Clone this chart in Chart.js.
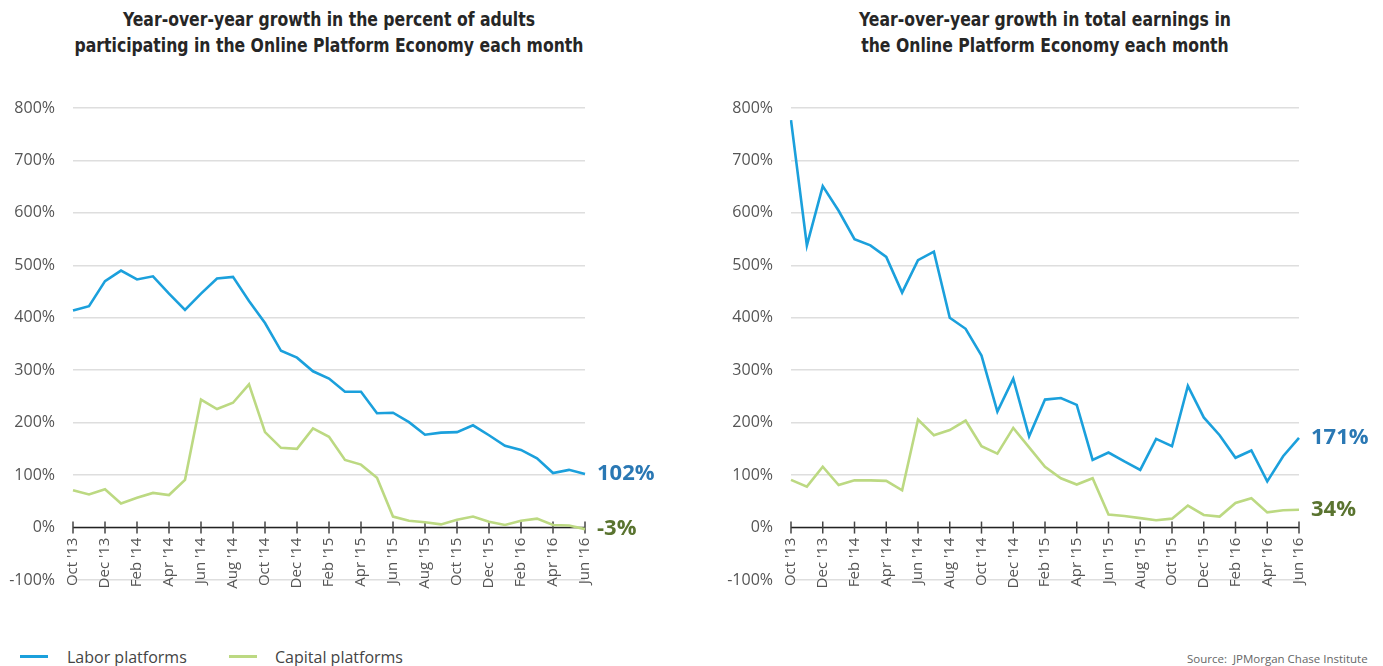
<!DOCTYPE html>
<html><head><meta charset="utf-8">
<script src="https://cdn.jsdelivr.net/npm/chart.js@4.4.1/dist/chart.umd.min.js"></script>
<style>
body{margin:0;width:1383px;height:666px;background:#fff;position:relative;overflow:hidden;font-family:"Open Sans",sans-serif;}
.title{position:absolute;top:6px;width:640px;text-align:center;font-family:"DejaVu Sans Condensed","DejaVu Sans",sans-serif;font-weight:bold;font-size:20px;line-height:26px;color:#262626;white-space:nowrap;transform:scaleX(0.87);transform-origin:50% 50%;}
.wrap{position:absolute;top:0;height:620px;}
.leg{position:absolute;top:646px;font-size:16px;color:#444;line-height:22px;white-space:nowrap;}
.sw{position:absolute;top:655px;height:3px;width:28px;}
.src{position:absolute;top:651px;left:1187px;font-size:11.5px;color:#666;white-space:nowrap;}
</style></head>
<body>
<div class="title" style="left:9px">Year-over-year growth in the percent of adults<br>participating in the Online Platform Economy each month</div>
<div class="title" style="left:725px">Year-over-year growth in total earnings in<br>the Online Platform Economy each month</div>
<div class="wrap" style="left:0;width:690px"><canvas id="c1"></canvas></div>
<div class="wrap" style="left:690px;width:693px"><canvas id="c2"></canvas></div>
<div class="sw" style="left:20px;background:#1ba0dc"></div>
<div class="leg" style="left:67px">Labor platforms</div>
<div class="sw" style="left:229px;background:#bcd982"></div>
<div class="leg" style="left:275px">Capital platforms</div>
<div class="src">Source:&nbsp; JPMorgan Chase Institute</div>
<script>
const months = ["Oct '13","Nov '13","Dec '13","Jan '14","Feb '14","Mar '14","Apr '14","May '14","Jun '14","Jul '14","Aug '14","Sep '14","Oct '14","Nov '14","Dec '14","Jan '15","Feb '15","Mar '15","Apr '15","May '15","Jun '15","Jul '15","Aug '15","Sep '15","Oct '15","Nov '15","Dec '15","Jan '16","Feb '16","Mar '16","Apr '16","May '16","Jun '16"];
const seriesNames = ["Labor platforms","Capital platforms"];
const laborParticipation = [414,422,470,490,473,479,446,415,446,475,478,432,390,337,324,298,284,259,259,218,219,201,177,181,182,195,176,156,148,132,104,110,102];
const capitalParticipation = [71,63,73,46,57,66,62,91,244,226,238,273,182,152,150,189,173,129,120,95,21,13,10,6,15,21,11,5,13,17,5,4,-3];
const laborEarnings = [777,538,651,604,550,538,516,448,510,526,400,379,328,221,284,174,244,247,234,129,143,126,110,169,155,270,210,176,133,147,88,136,171];
const capitalEarnings = [91,78,116,81,90,90,89,71,206,176,186,204,155,141,190,153,116,94,82,94,25,22,18,14,17,42,24,21,47,56,29,33,34];
const yTicks = [-100,0,100,200,300,400,500,600,700,800];

const lineColors = ['#1ba0dc','#bcd982'];
const endColors = ['#2a78b4','#5a7430'];

const axisPlugin = {
  id:'axisPlugin',
  beforeDatasetsDraw(chart){
    const {ctx, chartArea, scales} = chart;
    const y0 = scales.y.getPixelForValue(0);
    ctx.save();
    ctx.strokeStyle = '#222';
    ctx.lineWidth = 1.5;
    ctx.beginPath();
    ctx.moveTo(chartArea.left, y0); ctx.lineTo(chartArea.right, y0);
    ctx.stroke();
    ctx.strokeStyle = '#444';
    for (let i = 0; i < months.length; i += 2) {
      const x = scales.x.getPixelForValue(i);
      ctx.beginPath(); ctx.moveTo(x, y0 - 6); ctx.lineTo(x, y0 + 6); ctx.stroke();
    }
    ctx.restore();
  },
  afterDatasetsDraw(chart){
    const {ctx, chartArea} = chart;
    ctx.save();
    ctx.font = 'bold 22px "Open Sans", sans-serif';
    ctx.textBaseline = 'middle';
    ctx.textAlign = 'left';
    chart.data.datasets.forEach((ds, k) => {
      const meta = chart.getDatasetMeta(k);
      const pt = meta.data[meta.data.length - 1];
      ctx.fillStyle = endColors[k];
      ctx.fillText(ds.data[ds.data.length - 1] + '%', chartArea.right + 12, pt.y);
    });
    ctx.restore();
  }
};

function makeChart(id, labor, capital, yWidth, padRight){
  return new Chart(document.getElementById(id), {
    type:'line',
    data:{labels:months, datasets:[
      {label:seriesNames[0], data:labor, borderColor:lineColors[0], borderWidth:2.6, pointRadius:0, tension:0, fill:false},
      {label:seriesNames[1], data:capital, borderColor:lineColors[1], borderWidth:2.6, pointRadius:0, tension:0, fill:false}
    ]},
    options:{
      responsive:true, maintainAspectRatio:false, animation:false,
      layout:{padding:{left:0, right:padRight, top:108, bottom:40}},
      plugins:{legend:{display:false}, tooltip:{enabled:false}, title:{display:false}},
      scales:{
        x:{type:'category', position:{y:0}, offset:false,
           grid:{display:false, drawTicks:false}, border:{display:false},
           ticks:{autoSkip:false, maxRotation:90, minRotation:90, padding:10, color:'#555',
                  font:{family:'"Open Sans", sans-serif', size:15},
                  callback:(v,i)=> i % 2 === 0 ? months[i] : ''}},
        y:{min:-100, max:800,
           afterBuildTicks:(s)=>{ s.ticks = yTicks.map(v=>({value:v})); },
           afterFit:(s)=>{ s.width = yWidth; },
           grid:{color:'#dedede', lineWidth:1.5, drawTicks:false}, border:{display:false},
           ticks:{padding:18, color:'#555', font:{family:'"Open Sans", sans-serif', size:16},
                  callback:(v)=> v + '%'}}
      }
    },
    plugins:[axisPlugin]
  });
}
makeChart('c1', laborParticipation, capitalParticipation, 73, 105);
makeChart('c2', laborEarnings, capitalEarnings, 101, 84);
</script>
</body></html>
